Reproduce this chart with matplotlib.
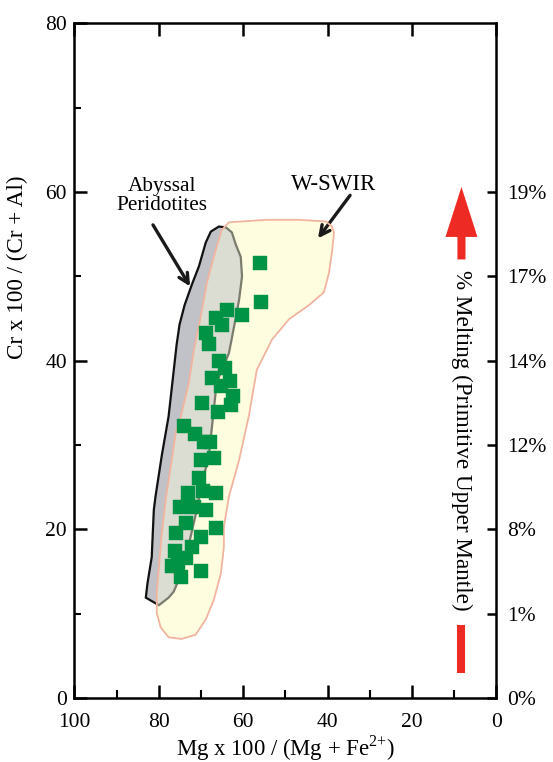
import matplotlib
matplotlib.use("Agg")
import matplotlib.pyplot as plt
from matplotlib.patches import Polygon

plt.rcParams['font.family'] = ['Liberation Serif', 'DejaVu Serif']
plt.rcParams['mathtext.fontset'] = 'custom'
plt.rcParams['mathtext.rm'] = 'Liberation Serif'

# Field outlines (Mg# , Cr#)
abyssal_x = [65.8, 67.7, 68.9, 70.5, 72.2, 73.9, 75.1, 75.8, 76.2, 77.7, 79.3, 80.8,
             81.2, 81.7, 82.7, 83.1, 80.0, 77.7, 76.5, 74.8, 72.9, 71.3, 69.8, 68.2,
             67.5, 66.3, 63.4, 62.2, 61.0, 60.3, 60.6, 61.8, 62.7, 64.1]
abyssal_y = [55.9, 55.3, 54.0, 51.2, 49.0, 46.6, 44.3, 41.9, 40.1, 33.4, 28.8, 23.9,
             22.3, 16.7, 13.6, 11.9, 11.0, 11.9, 12.6, 14.6, 18.2, 21.7, 25.5, 28.6,
             31.8, 37.4, 40.9, 44.0, 47.2, 50.0, 52.3, 53.8, 55.2, 55.8]

swir_x = [63.4, 54.6, 46.8, 40.4, 39.0, 38.5, 39.0, 39.7, 40.9, 44.4, 49.2, 53.2,
          56.8, 58.7, 61.0, 63.4, 64.6, 64.6, 65.3, 67.0, 68.9, 71.3, 74.6, 77.7,
          79.6, 80.5, 80.5, 80.0, 79.3, 78.4, 77.2, 76.0, 74.8, 72.9, 71.7, 70.1,
          68.6, 66.5, 65.1]
swir_y = [56.4, 56.7, 56.7, 56.5, 55.9, 55.2, 52.8, 50.4, 48.1, 46.6, 44.9, 42.5,
          38.9, 33.4, 28.2, 23.9, 20.3, 17.9, 14.8, 11.6, 9.3, 7.5, 7.0, 7.2,
          8.4, 10.1, 12.5, 15.5, 19.6, 23.5, 27.4, 31.5, 33.4, 37.4, 41.3, 45.2,
          49.3, 53.2, 55.5]

# Spinel analyses
mg_num = [56.1, 55.8, 60.3, 63.9, 66.5, 65.1, 68.9, 68.2, 65.8, 64.4, 67.5, 65.3,
          62.5, 63.2, 62.9, 69.8, 66.0, 74.1, 71.5, 69.4, 67.9, 70.1, 67.0, 70.5,
          73.2, 69.6, 66.5, 75.1, 71.7, 68.9, 73.6, 76.0, 66.5, 70.1, 72.2, 76.2,
          73.6, 75.5, 77.0, 74.8, 70.1]
cr_num = [51.6, 46.9, 45.4, 46.0, 45.1, 44.2, 43.3, 42.0, 39.9, 39.1, 37.9, 37.0,
          35.8, 37.6, 34.8, 35.0, 33.9, 32.2, 31.3, 30.4, 30.3, 28.2, 28.5, 26.1,
          24.3, 24.5, 24.3, 22.7, 22.6, 22.3, 20.7, 19.6, 20.1, 19.1, 17.9, 17.4,
          16.6, 15.9, 15.7, 14.4, 15.1]

# Degree of melting scale
melt_pos = [0, 10, 20, 30, 40, 50, 60]
melt_labels = ['0%', '1%', '8%', '12%', '14%', '17%', '19%']

red = '#ee2a24'
green = '#009245'

fig = plt.figure(figsize=(5.53, 7.62), dpi=100)
ax = fig.add_axes([0.1347, 0.0840, 0.8978 - 0.1347, 0.9694 - 0.0840])
ax.set_xlim(100, 0)
ax.set_ylim(0, 80)

swir_pts = list(zip(swir_x, swir_y))
aby_pts = list(zip(abyssal_x, abyssal_y))
ax.add_patch(Polygon(swir_pts, closed=True, fc='#fefde0', ec='none', zorder=1))
ax.add_patch(Polygon(aby_pts, closed=True, fc='#c0c2c8', ec='none', zorder=2))
ax.add_patch(Polygon(aby_pts, closed=True, fill=False, ec='#111111', lw=1.6, zorder=2.5))
ax.add_patch(Polygon(swir_pts, closed=True, fc='#fefde0', alpha=0.45, ec='none', zorder=3))
ax.add_patch(Polygon(swir_pts, closed=True, fill=False, ec='#f2b49e', lw=1.3, zorder=3.5))

ax.plot(mg_num, cr_num, ls='none', marker='s', ms=10, mfc=green, mec=green, mew=0.3, zorder=5)

# Field labels with pointers
arrow_kw = dict(arrowstyle='->,head_length=0.7,head_width=0.35', lw=2.4,
                color='#1a1a1a', shrinkA=0, shrinkB=0)
ax.text(79.3, 59.5, 'Abyssal\nPeridotites', ha='center', va='center',
        fontsize=15.3, linespacing=1.0)
ax.annotate('', xy=(72.6, 48.8), xytext=(81.4, 56.1), arrowprops=arrow_kw)
ax.text(38.7, 60.9, 'W-SWIR', ha='center', va='center', fontsize=16.5)
ax.annotate('', xy=(42.3, 54.5), xytext=(34.7, 59.6), arrowprops=arrow_kw)

# Melting direction arrow and low-melting bar
ax.annotate('', xy=(8.3, 60.6), xytext=(8.3, 52.0),
            arrowprops=dict(arrowstyle='simple,head_length=36,head_width=23,tail_width=5.8',
                            mutation_scale=1, fc=red, ec='none', shrinkA=0, shrinkB=0))
ax.vlines(8.3, 3.0, 8.7, color=red, lw=5.8)
ax.text(8.3, 30.6, '% Melting (Primitive Upper Mantle)', rotation=270,
        ha='center', va='center', fontsize=16.7)

# Axes styling
for s in ax.spines.values():
    s.set_linewidth(1.8)
ax.set_xticks([100, 80, 60, 40, 20, 0])
ax.set_xticks([90, 70, 50, 30, 10], minor=True)
ax.set_yticks([0, 20, 40, 60, 80])
ax.set_yticks([10, 30, 50, 70], minor=True)
ax.tick_params(axis='x', which='major', direction='in', length=9.5, width=1.8,
               labelsize=15.5, pad=10.5, top=True)
ax.tick_params(axis='x', which='minor', direction='in', length=5.5, width=1.5)
ax.tick_params(axis='y', which='major', direction='in', length=9.5, width=1.8,
               labelsize=15.5, pad=5.5)
ax.tick_params(axis='y', which='minor', direction='in', length=5, width=1.5)
ax.set_xlabel(r'Mg x 100 / (Mg + Fe$^{2{+}}$)', fontsize=16.4)
ax.xaxis.set_label_coords(0.5, -0.053)
ax.set_ylabel('Cr x 100 / (Cr + Al)', fontsize=16.7)
ax.yaxis.set_label_coords(-0.11, 0.638)

ax2 = ax.twinx()
ax2.set_ylim(0, 80)
ax2.set_yticks(melt_pos)
ax2.set_yticklabels(melt_labels)
ax2.tick_params(axis='y', direction='in', length=6.5, width=1.8, labelsize=15.5, pad=8)
for s in ax2.spines.values():
    s.set_visible(False)

fig.savefig('out.png', dpi=100)
